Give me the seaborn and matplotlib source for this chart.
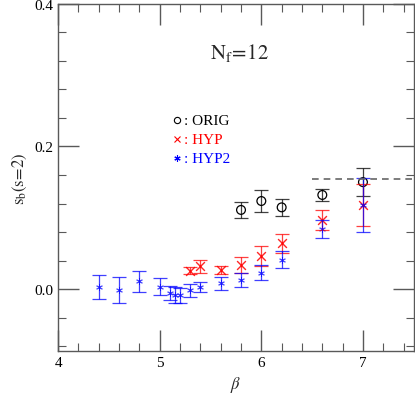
import numpy as np
import pandas as pd
import matplotlib
matplotlib.use('Agg')
import matplotlib.pyplot as plt
import seaborn as sns

# ORIG
beta_orig = [5.8, 6.0, 6.2, 6.6, 7.0]
sb_orig = [0.111, 0.1235, 0.1146, 0.132, 0.150]
err_orig = [0.011, 0.015, 0.012, 0.009, 0.020]

# HYP
beta_hyp = [5.3, 5.4, 5.6, 5.8, 6.0, 6.2, 6.6, 7.0]
sb_hyp = [0.026, 0.032, 0.027, 0.034, 0.047, 0.064, 0.097, 0.118]
err_hyp = [0.005, 0.009, 0.006, 0.011, 0.014, 0.013, 0.014, 0.030]

# HYP2
beta_hyp2 = [4.4, 4.6, 4.8, 5.0, 5.1, 5.15, 5.2, 5.3, 5.4, 5.6, 5.8, 6.0, 6.2, 6.6, 7.0]
sb_hyp2 = [0.003, -0.001, 0.011, 0.003, -0.006, -0.008, -0.009, -0.002, 0.003,
           0.008, 0.013, 0.023, 0.041, 0.084, 0.118]
err_hyp2 = [0.017, 0.018, 0.015, 0.012, 0.010, 0.011, 0.010, 0.009, 0.007,
            0.009, 0.010, 0.011, 0.012, 0.013, 0.038]

plateau_beta = [6.5, 7.5]
plateau_val = 0.154

sns.set_style('ticks')
plt.rcParams['font.family'] = ['Liberation Serif', 'DejaVu Serif']
plt.rcParams['mathtext.fontset'] = 'stix'

fig = plt.figure(figsize=(4.15, 4.10), dpi=100)
ax = fig.add_axes([0.140, 0.142, 0.857, 0.846])

series = [
    ('ORIG', beta_orig, sb_orig, err_orig, 'black', 'o'),
    ('HYP', beta_hyp, sb_hyp, err_hyp, 'red', 'x'),
    ('HYP2', beta_hyp2, sb_hyp2, err_hyp2, 'blue', (6, 2, 0)),
]

frames = []
for name, b, v, e, c, m in series:
    ax.errorbar(b, v, yerr=e, fmt='none', ecolor=c, elinewidth=0.9,
                capsize=5, capthick=0.9, alpha=0.75)
    frames.append(pd.DataFrame({'beta': b, 'sb': v, 'set': name}))
df = pd.concat(frames)

for name, b, v, e, c, m in series:
    sub = df[df['set'] == name]
    if m == 'o':
        sns.scatterplot(data=sub, x='beta', y='sb', ax=ax, marker='o', s=40,
                        facecolor='none', edgecolor=c, linewidth=0.9, legend=False)
    elif m == 'x':
        sns.scatterplot(data=sub, x='beta', y='sb', ax=ax, marker='x', s=40,
                        color=c, linewidth=1.0, alpha=0.85, legend=False)
    else:
        sns.scatterplot(data=sub, x='beta', y='sb', ax=ax, marker=m, s=18,
                        color=c, linewidth=0.7, alpha=0.7, legend=False)

ax.plot(plateau_beta, [plateau_val, plateau_val], ls=(0, (4, 3)),
        color='0.4', lw=1.2)

ax.set_xlim(4, 7.5)
ax.set_ylim(-0.0866, 0.4)
ax.set_xticks([4, 5, 6, 7])
ax.set_xticks(np.arange(4, 7.51, 0.2), minor=True)
ax.set_yticks([0.0, 0.2, 0.4])
ax.set_yticklabels(['0.0', '0.2', '0.4'])
ax.set_yticks(np.arange(-0.08, 0.4, 0.04), minor=True)
ax.tick_params(which='both', direction='in', top=True, right=True,
               colors='0.35', labelcolor='black', labelsize=11)
ax.tick_params(which='major', length=15, width=1.0)
ax.tick_params(which='minor', length=6, width=0.8)
for sp in ax.spines.values():
    sp.set_color('0.35')
    sp.set_linewidth(1.0)

ax.set_xlabel(r'$\beta$', fontsize=12)
ax.set_ylabel(r'$\mathrm{s_b(s\!=\!2)}$', fontsize=12)

ax.text(0.51, 0.86, r'$\mathrm{N_f\!=\!12}$', transform=ax.transAxes,
        fontsize=15, ha='center', va='center')

leg = [('o', 'black', 'ORIG', 0.665), ('x', 'red', 'HYP', 0.610),
       ((6, 2, 0), 'blue', 'HYP2', 0.555)]
for m, c, t, yy in leg:
    if m == 'o':
        ax.plot([0.335], [yy], marker='o', ms=4.5, mfc='none', mec=c,
                mew=0.8, transform=ax.transAxes)
    else:
        ax.plot([0.335], [yy], marker=m, ms=4.5, color=c, mew=0.8,
                transform=ax.transAxes)
    ax.text(0.355, yy, ': ' + t, color=c, fontsize=11, va='center',
            transform=ax.transAxes)

fig.savefig('out.png', dpi=100)
